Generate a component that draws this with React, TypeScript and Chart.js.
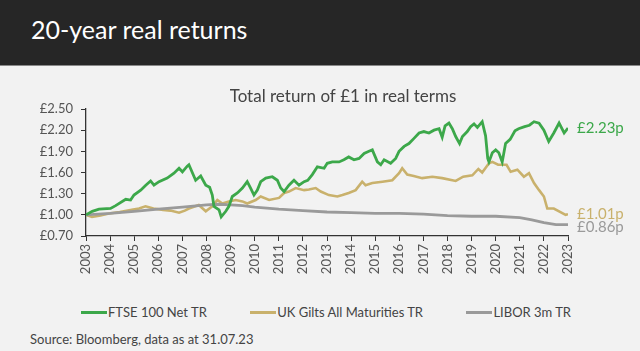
import { useEffect, useRef } from "react";
import { Chart, registerables } from "chart.js";

Chart.register(...registerables);

const headerTitle = "20-year real returns";
const chartTitle = "Total return of £1 in real terms";
const sourceText = "Source: Bloomberg, data as at 31.07.23";

const seriesNames = ["FTSE 100 Net TR", "UK Gilts All Maturities TR", "LIBOR 3m TR"];
const endLabels = ["£2.23p", "£1.01p", "£0.86p"];

const yTickValues = [0.7, 1.0, 1.3, 1.6, 1.9, 2.2, 2.5];
const xTickYears = [2003, 2004, 2005, 2006, 2007, 2008, 2009, 2010, 2011, 2012, 2013, 2014, 2015, 2016, 2017, 2018, 2019, 2020, 2021, 2022, 2023];

const ftseX = [2003.0, 2003.26, 2003.54, 2004.02, 2004.23, 2004.65, 2004.85, 2004.99, 2005.27, 2005.48, 2005.68, 2005.82, 2006.03, 2006.37, 2006.65, 2006.86, 2007.0, 2007.2, 2007.27, 2007.55, 2007.76, 2007.97, 2008.13, 2008.24, 2008.31, 2008.52, 2008.61, 2008.8, 2008.93, 2009.07, 2009.28, 2009.49, 2009.69, 2009.83, 2009.97, 2010.11, 2010.25, 2010.46, 2010.73, 2010.94, 2011.08, 2011.22, 2011.42, 2011.63, 2011.84, 2012.05, 2012.2, 2012.39, 2012.6, 2012.88, 2013.01, 2013.22, 2013.5, 2013.7, 2013.9, 2014.12, 2014.33, 2014.54, 2014.74, 2014.88, 2015.09, 2015.23, 2015.37, 2015.64, 2015.85, 2015.99, 2016.2, 2016.4, 2016.6, 2016.82, 2017.02, 2017.23, 2017.44, 2017.65, 2017.78, 2017.9, 2018.06, 2018.2, 2018.34, 2018.5, 2018.62, 2018.82, 2018.96, 2019.1, 2019.24, 2019.44, 2019.58, 2019.67, 2019.72, 2019.86, 2020.0, 2020.13, 2020.27, 2020.41, 2020.6, 2020.8, 2020.95, 2021.2, 2021.4, 2021.59, 2021.8, 2022.0, 2022.2, 2022.41, 2022.63, 2022.84, 2023.0];
const ftseY = [1.0, 1.05, 1.08, 1.09, 1.13, 1.22, 1.21, 1.28, 1.35, 1.42, 1.48, 1.42, 1.47, 1.52, 1.59, 1.66, 1.61, 1.69, 1.71, 1.49, 1.55, 1.42, 1.39, 1.28, 1.12, 1.07, 0.97, 1.05, 1.12, 1.26, 1.31, 1.38, 1.47, 1.38, 1.28, 1.35, 1.47, 1.52, 1.54, 1.49, 1.38, 1.33, 1.42, 1.49, 1.42, 1.47, 1.49, 1.57, 1.68, 1.66, 1.73, 1.75, 1.75, 1.78, 1.82, 1.78, 1.8, 1.87, 1.9, 1.92, 1.75, 1.71, 1.78, 1.73, 1.8, 1.9, 1.97, 2.01, 2.08, 2.16, 2.18, 2.16, 2.2, 2.22, 2.1, 2.26, 2.3, 2.22, 2.11, 2.01, 2.11, 2.18, 2.25, 2.29, 2.24, 2.32, 2.12, 1.8, 1.75, 1.88, 1.92, 1.88, 1.75, 2.01, 2.07, 2.19, 2.22, 2.25, 2.27, 2.32, 2.3, 2.2, 2.04, 2.16, 2.3, 2.16, 2.23];

const giltsX = [2003.0, 2003.25, 2003.6, 2003.95, 2004.4, 2004.9, 2005.2, 2005.47, 2005.8, 2006.2, 2006.5, 2006.86, 2007.1, 2007.27, 2007.68, 2007.97, 2008.24, 2008.45, 2008.66, 2008.93, 2009.21, 2009.49, 2009.69, 2010.04, 2010.25, 2010.6, 2011.01, 2011.22, 2011.42, 2011.7, 2012.05, 2012.25, 2012.53, 2012.74, 2013.08, 2013.43, 2013.64, 2013.9, 2014.19, 2014.46, 2014.6, 2014.88, 2015.3, 2015.71, 2015.99, 2016.12, 2016.33, 2016.6, 2016.95, 2017.37, 2017.78, 2018.34, 2018.65, 2019.03, 2019.28, 2019.44, 2019.72, 2019.86, 2020.1, 2020.45, 2020.62, 2020.9, 2021.17, 2021.38, 2021.59, 2021.8, 2022.0, 2022.14, 2022.41, 2022.63, 2022.9, 2023.0];
const giltsY = [1.0, 0.97, 0.99, 1.02, 1.04, 1.07, 1.09, 1.12, 1.09, 1.07, 1.06, 1.03, 1.06, 1.09, 1.14, 1.05, 1.12, 1.21, 1.16, 1.19, 1.21, 1.19, 1.16, 1.21, 1.26, 1.21, 1.24, 1.31, 1.33, 1.38, 1.35, 1.36, 1.38, 1.33, 1.28, 1.26, 1.28, 1.31, 1.35, 1.47, 1.42, 1.45, 1.47, 1.49, 1.59, 1.66, 1.57, 1.55, 1.52, 1.54, 1.52, 1.48, 1.54, 1.56, 1.65, 1.6, 1.73, 1.75, 1.71, 1.71, 1.61, 1.64, 1.54, 1.59, 1.45, 1.35, 1.26, 1.09, 1.09, 1.05, 1.0, 1.01];

const liborX = [2003.0, 2004.0, 2005.0, 2006.0, 2007.0, 2008.0, 2008.5, 2009.0, 2009.5, 2010.0, 2011.0, 2012.0, 2013.0, 2014.0, 2015.0, 2016.0, 2017.0, 2018.0, 2019.0, 2020.0, 2021.0, 2021.5, 2022.0, 2022.5, 2023.0];
const liborY = [1.0, 1.02, 1.05, 1.08, 1.11, 1.14, 1.15, 1.14, 1.13, 1.11, 1.08, 1.06, 1.04, 1.03, 1.02, 1.02, 1.01, 0.99, 0.98, 0.98, 0.96, 0.93, 0.89, 0.86, 0.86];

const colors = ["#3ca84a", "#c9b16c", "#9a9a9a"];
const FONT = "Lato, 'DejaVu Sans', sans-serif";

function toPoints(xs: number[], ys: number[]) {
  return xs.map((x, i) => ({ x, y: ys[i] }));
}

const overlayPlugin = {
  id: "overlayText",
  afterDraw(chart: any) {
    const ctx = chart.ctx;
    const area = chart.chartArea;
    ctx.save();
    ctx.fillStyle = "#444";
    ctx.font = `17px ${FONT}`;
    ctx.textAlign = "center";
    ctx.textBaseline = "middle";
    ctx.fillText(chartTitle, 343, 31);

    const yScale = chart.scales.y;
    const items = chart.data.datasets.map((ds: any, i: number) => {
      const last = ds.data[ds.data.length - 1];
      return { y: yScale.getPixelForValue(last.y), text: endLabels[i], color: colors[i] };
    });
    items.sort((a: any, b: any) => a.y - b.y);
    for (let i = 1; i < items.length; i++) {
      if (items[i].y - items[i - 1].y < 13) items[i].y = items[i - 1].y + 13;
    }
    ctx.font = `15px ${FONT}`;
    ctx.textAlign = "left";
    items.forEach((it: any) => {
      ctx.fillStyle = it.color;
      ctx.fillText(it.text, area.right + 9, it.y);
    });
    ctx.restore();
  },
};

export default function App() {
  const ref = useRef<HTMLCanvasElement | null>(null);

  useEffect(() => {
    document.body.style.margin = "0";
    const canvas = ref.current;
    if (!canvas) return;
    const chart = new Chart(canvas, {
      type: "line",
      data: {
        datasets: [
          { label: seriesNames[0], data: toPoints(ftseX, ftseY), borderColor: colors[0], borderWidth: 2.8, pointRadius: 0, tension: 0, order: 0 },
          { label: seriesNames[1], data: toPoints(giltsX, giltsY), borderColor: colors[1], borderWidth: 2.6, pointRadius: 0, tension: 0, order: 2 },
          { label: seriesNames[2], data: toPoints(liborX, liborY), borderColor: colors[2], borderWidth: 2.8, pointRadius: 0, tension: 0, order: 1 },
        ],
      },
      options: {
        animation: false,
        responsive: false,
        layout: { padding: { top: 43, right: 72, left: 0, bottom: 0 } },
        plugins: { legend: { display: false }, tooltip: { enabled: false }, title: { display: false } },
        scales: {
          x: {
            type: "linear",
            min: 2003,
            max: 2023,
            afterBuildTicks: (s: any) => { s.ticks = xTickYears.map((v) => ({ value: v })); },
            afterFit: (s: any) => { s.height = 50; },
            grid: { drawOnChartArea: false, tickLength: 5, tickColor: "#333" },
            border: { color: "#333", width: 1.3 },
            ticks: { color: "#555", font: { family: FONT, size: 13 }, minRotation: 90, maxRotation: 90, padding: 3, autoSkip: false, callback: (v: any) => String(v) },
          },
          y: {
            min: 0.7,
            max: 2.5,
            afterBuildTicks: (s: any) => { s.ticks = yTickValues.map((v) => ({ value: v })); },
            afterFit: (s: any) => { s.width = 86; },
            grid: { drawOnChartArea: false, tickLength: 5, tickColor: "#333" },
            border: { color: "#333", width: 1.3 },
            ticks: { color: "#555", font: { family: FONT, size: 13 }, padding: 8, callback: (v: any) => "£" + Number(v).toFixed(2) },
          },
        },
      },
      plugins: [overlayPlugin],
    } as any);
    return () => chart.destroy();
  }, []);

  const legendItem = (i: number) => (
    <div key={i} style={{ display: "flex", alignItems: "center" }}>
      <div style={{ width: 26, height: 3, background: colors[i] }} />
      <span style={{ marginLeft: 1 }}>{seriesNames[i]}</span>
    </div>
  );

  return (
    <div style={{ position: "relative", width: 640, height: 351, background: "#f2f2f2", fontFamily: FONT, overflow: "hidden" }}>
      <div style={{ position: "absolute", left: 0, top: 0, width: 640, height: 66, background: "#262626", borderBottom: "1px solid #888", boxSizing: "border-box" }}>
        <div style={{ position: "absolute", left: 31, top: 14, color: "#fff", fontSize: 25, lineHeight: "30px" }}>{headerTitle}</div>
      </div>
      <canvas ref={ref} width={640} height={220} style={{ position: "absolute", left: 0, top: 66, width: 640, height: 220 }} />
      <div style={{ position: "absolute", left: 81, top: 304, width: 490, display: "flex", justifyContent: "space-between", color: "#444", fontSize: 13 }}>
        {legendItem(0)}
        {legendItem(1)}
        {legendItem(2)}
      </div>
      <div style={{ position: "absolute", left: 30, top: 331, color: "#444", fontSize: 13 }}>{sourceText}</div>
    </div>
  );
}
